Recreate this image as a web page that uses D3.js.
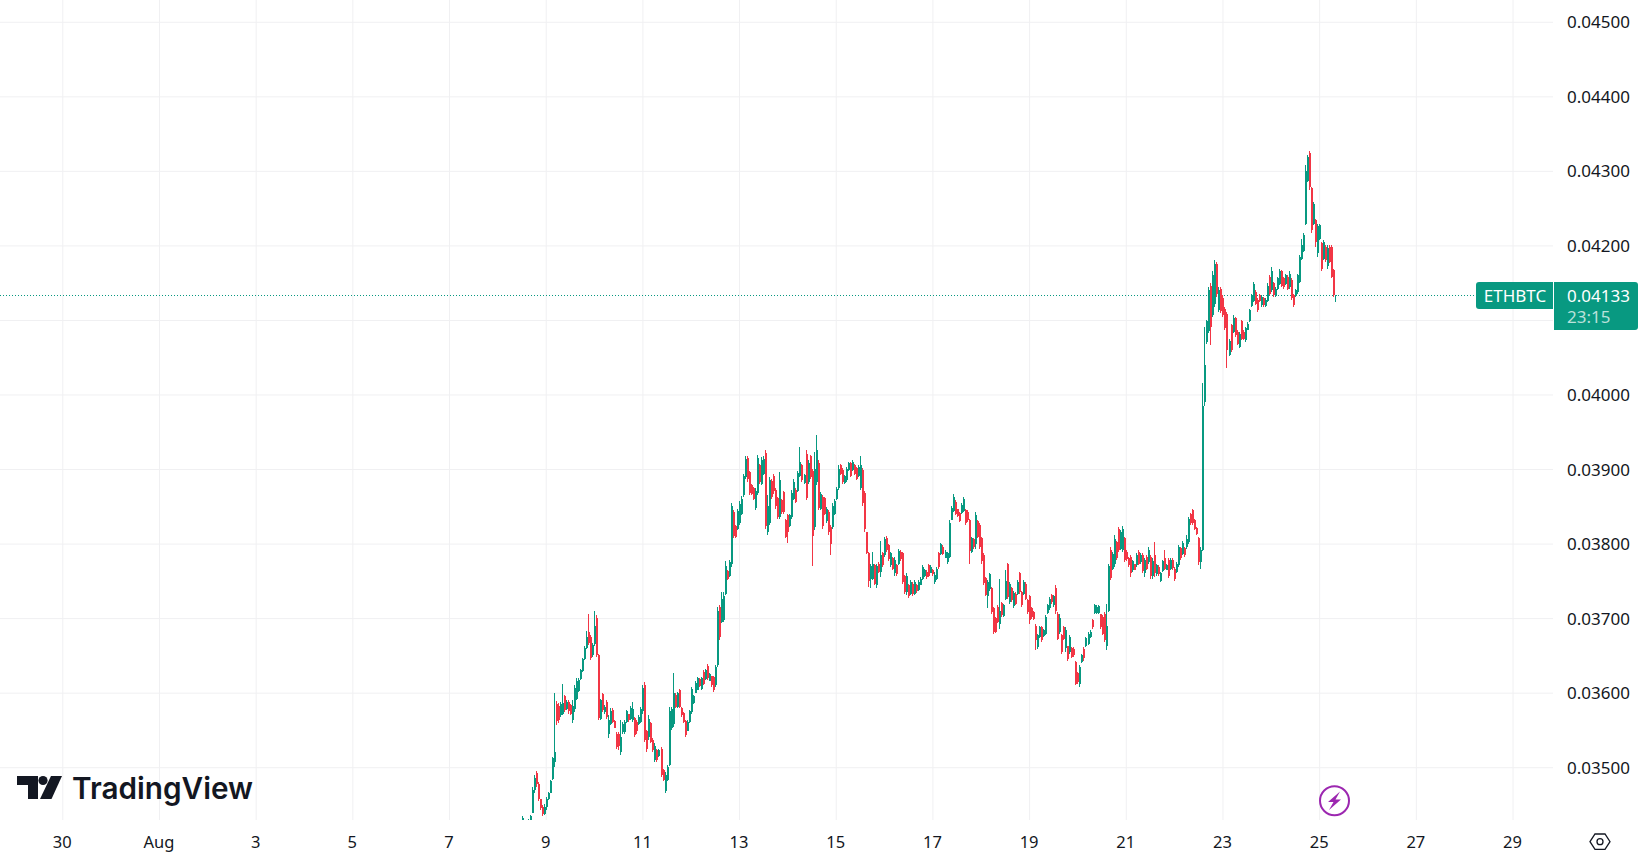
<!DOCTYPE html>
<html>
<head>
<meta charset="utf-8">
<title>ETHBTC</title>
<script src="https://cdn.jsdelivr.net/npm/d3@7"></script>
<style>
html, body { margin: 0; padding: 0; background: #fff; overflow: hidden; }
text { font-family: "Noto Sans", sans-serif; }
</style>
</head>
<body>
<div id="chart"></div>
<script>
const WIDTH = 1644, HEIGHT = 859;
const PANE_W = 1553, PANE_H = 820;
const UP = "#089981", DOWN = "#F23645", INK = "#131722", GRID = "#f0f0f2";

// hourly candles, 2025-08-08 12:00 UTC onward, prices in 1e-5 BTC
const firstCandle = Date.UTC(2025, 7, 8, 12);
const PRICE_UNIT = 1e5;

const opens = [
3427,3427,3420,3424,3428,3438,3469,3492,3478,3457,3446,3437,3446,3458,3466,3484,3507,3585,3582,3570,
3572,3595,3578,3588,3583,3563,3578,3592,3602,3618,3629,3645,3660,3682,3675,3650,3665,3700,3650,3565,
3598,3574,3588,3545,3558,3577,3562,3545,3544,3520,3547,3547,3560,3571,3565,3563,3566,3561,3558,3561,
3575,3610,3548,3540,3559,3537,3510,3523,3515,3525,3496,3468,3483,3503,3553,3558,3597,3581,3603,3580,
3573,3562,3549,3560,3574,3586,3600,3604,3618,3605,3628,3618,3636,3616,3622,3621,3610,3637,3715,3695,
3697,3733,3763,3757,3772,3843,3823,3820,3827,3840,3865,3889,3915,3896,3878,3874,3848,3868,3905,3880,
3894,3921,3815,3828,3884,3891,3872,3861,3836,3858,3869,3832,3838,3824,3835,3860,3872,3871,3891,3905,
3881,3920,3882,3917,3897,3822,3882,3908,3847,3862,3861,3830,3843,3822,3822,3840,3860,3874,3905,3899,
3881,3885,3899,3908,3899,3905,3901,3890,3875,3899,3868,3815,3787,3752,3753,3771,3745,3773,3762,3787,
3784,3808,3798,3771,3780,3760,3771,3773,3789,3787,3756,3735,3744,3733,3746,3733,3745,3738,3745,3752,
3756,3762,3771,3761,3765,3748,3752,3787,3786,3796,3781,3775,3782,3832,3844,3856,3846,3841,3841,3844,
3845,3843,3831,3789,3806,3800,3830,3825,3807,3785,3754,3730,3739,3740,3713,3700,3715,3692,3720,3703,
3726,3772,3721,3740,3716,3733,3733,3760,3735,3733,3746,3724,3729,3713,3708,3690,3661,3675,3688,3676,
3679,3707,3713,3731,3717,3741,3706,3681,3677,3688,3660,3662,3654,3660,3659,3641,3626,3611,3641,3659,
3662,3665,3674,3697,3707,3707,3707,3705,3702,3706,3662,3710,3792,3766,3772,3802,3820,3793,3792,3807,
3789,3781,3782,3764,3772,3771,3789,3775,3785,3760,3782,3775,3782,3756,3785,3759,3769,3750,3763,3780,
3765,3778,3766,3778,3766,3762,3771,3794,3786,3794,3795,3802,3840,3845,3831,3821,3807,3775,3792,3990,
4070,4085,4146,4106,4122,4175,4113,4141,4130,4115,4108,4053,4093,4084,4102,4084,4064,4098,4084,4073,
4087,4098,4119,4126,4138,4127,4134,4120,4130,4119,4126,4158,4140,4149,4132,4142,4148,4165,4156,4148,
4158,4144,4154,4133,4132,4137,4151,4182,4193,4229,4287,4324,4277,4229,4234,4190,4209,4203,4182,4198,
4172,4198,4198,4167,4132
];
const highs = [
3434,3428,3426,3430,3436,3474,3489,3495,3480,3458,3449,3450,3460,3467,3483,3514,3600,3589,3586,3588,
3611,3597,3590,3590,3585,3590,3610,3619,3619,3632,3647,3662,3683,3705,3677,3666,3709,3704,3652,3592,
3600,3583,3590,3570,3579,3579,3563,3547,3547,3563,3561,3563,3577,3572,3582,3588,3568,3563,3570,3581,
3610,3614,3550,3570,3561,3539,3532,3525,3525,3527,3498,3494,3503,3581,3581,3627,3599,3601,3605,3581,
3574,3563,3563,3577,3608,3597,3615,3621,3619,3621,3630,3632,3638,3626,3623,3623,3637,3715,3717,3735,
3735,3776,3764,3778,3855,3845,3825,3847,3857,3864,3894,3917,3917,3898,3880,3876,3874,3919,3907,3916,
3917,3925,3865,3889,3886,3894,3874,3863,3896,3860,3871,3833,3840,3840,3872,3886,3874,3898,3929,3907,
3894,3925,3912,3919,3900,3923,3945,3912,3869,3865,3863,3849,3845,3825,3854,3860,3876,3905,3907,3901,
3892,3903,3910,3910,3912,3907,3903,3905,3918,3901,3871,3816,3789,3773,3789,3773,3773,3775,3804,3789,
3809,3810,3800,3789,3782,3782,3773,3793,3791,3789,3758,3760,3746,3751,3748,3751,3746,3751,3755,3771,
3766,3764,3773,3771,3766,3762,3769,3789,3801,3798,3791,3789,3831,3851,3866,3858,3847,3842,3854,3862,
3847,3845,3833,3809,3807,3842,3832,3827,3809,3787,3755,3751,3761,3742,3715,3702,3717,3753,3722,3719,
3765,3774,3749,3742,3737,3735,3751,3762,3737,3751,3748,3726,3731,3715,3710,3692,3679,3690,3690,3686,
3704,3719,3728,3733,3731,3744,3708,3706,3679,3690,3688,3663,3677,3661,3661,3643,3628,3637,3652,3661,
3675,3681,3684,3699,3719,3717,3717,3706,3704,3708,3719,3772,3795,3789,3811,3804,3822,3818,3823,3809,
3791,3782,3784,3778,3773,3787,3791,3787,3787,3780,3784,3795,3784,3780,3802,3773,3771,3762,3778,3792,
3773,3780,3780,3780,3768,3775,3798,3796,3804,3796,3811,3836,3841,3847,3833,3822,3809,3795,4015,4090,
4100,4144,4149,4165,4180,4178,4144,4144,4133,4118,4111,4075,4095,4106,4104,4086,4084,4100,4086,4091,
4097,4115,4135,4151,4140,4129,4135,4133,4131,4129,4149,4160,4171,4151,4144,4158,4169,4167,4158,4162,
4160,4165,4156,4135,4142,4162,4187,4209,4216,4308,4321,4327,4279,4258,4236,4229,4229,4205,4207,4200,
4200,4200,4200,4169,4133
];
const lows = [
3425,3420,3418,3422,3427,3438,3465,3474,3454,3442,3434,3436,3442,3456,3465,3483,3500,3557,3559,3568,
3570,3574,3577,3572,3570,3559,3574,3590,3601,3617,3628,3644,3659,3664,3644,3648,3662,3648,3563,3563,
3574,3572,3565,3539,3556,3559,3552,3525,3523,3516,3545,3545,3559,3561,3563,3561,3541,3545,3556,3559,
3572,3534,3521,3536,3532,3521,3507,3507,3514,3487,3481,3466,3481,3501,3550,3554,3579,3579,3579,3568,
3559,3541,3548,3559,3572,3585,3599,3603,3608,3603,3610,3617,3617,3615,3608,3601,3608,3635,3671,3693,
3695,3731,3751,3755,3769,3807,3807,3818,3825,3838,3863,3887,3883,3865,3865,3858,3845,3865,3880,3878,
3892,3820,3811,3825,3860,3867,3847,3833,3833,3840,3840,3807,3801,3822,3833,3858,3854,3869,3889,3883,
3880,3858,3880,3887,3770,3818,3878,3845,3845,3820,3838,3827,3811,3784,3820,3838,3858,3872,3892,3880,
3880,3883,3898,3889,3898,3892,3885,3889,3872,3851,3816,3786,3742,3740,3751,3744,3740,3760,3755,3769,
3782,3789,3777,3769,3764,3757,3757,3771,3777,3746,3733,3731,3727,3731,3730,3731,3734,3737,3744,3751,
3755,3753,3755,3760,3757,3746,3751,3766,3784,3784,3780,3773,3780,3831,3842,3838,3836,3829,3840,3842,
3825,3829,3773,3787,3793,3793,3807,3793,3773,3744,3729,3713,3737,3706,3679,3680,3693,3686,3702,3702,
3724,3726,3719,3722,3714,3717,3731,3733,3715,3731,3724,3706,3692,3699,3697,3657,3659,3673,3668,3675,
3677,3706,3711,3719,3715,3706,3670,3679,3652,3670,3655,3643,3652,3646,3648,3610,3612,3608,3640,3643,
3661,3664,3673,3686,3706,3706,3706,3686,3677,3668,3657,3708,3751,3764,3769,3778,3789,3791,3789,3775,
3777,3769,3755,3762,3764,3769,3771,3773,3760,3755,3764,3773,3753,3753,3755,3757,3757,3749,3762,3764,
3764,3754,3764,3765,3750,3760,3769,3778,3784,3782,3793,3800,3825,3825,3818,3811,3771,3766,3790,3985,
4068,4082,4066,4104,4118,4131,4111,4109,4104,4086,4035,4051,4057,4082,4077,4066,4062,4073,4073,4071,
4086,4097,4118,4124,4120,4111,4124,4118,4118,4118,4124,4133,4138,4131,4131,4140,4147,4144,4142,4147,
4140,4142,4127,4118,4131,4135,4149,4180,4191,4227,4285,4274,4216,4227,4198,4185,4207,4165,4180,4178,
4169,4176,4156,4131,4124
];
const closes = [
3432,3422,3424,3428,3435,3470,3486,3478,3458,3445,3437,3447,3458,3465,3481,3512,3520,3562,3563,3585,
3586,3577,3588,3575,3572,3582,3606,3616,3617,3630,3645,3660,3675,3666,3647,3664,3690,3650,3566,3590,
3577,3581,3568,3563,3576,3561,3553,3527,3528,3540,3558,3560,3575,3563,3580,3578,3543,3548,3568,3578,
3606,3537,3524,3565,3534,3523,3529,3510,3523,3489,3483,3490,3500,3575,3578,3600,3581,3599,3581,3570,
3561,3543,3561,3575,3605,3596,3613,3619,3609,3619,3612,3630,3619,3625,3610,3604,3635,3710,3675,3725,
3730,3770,3753,3775,3850,3810,3809,3844,3853,3860,3890,3913,3886,3868,3867,3860,3870,3915,3883,3912,
3914,3823,3850,3885,3863,3870,3850,3836,3885,3842,3842,3809,3815,3838,3868,3883,3856,3895,3910,3885,
3892,3861,3908,3889,3810,3900,3925,3848,3867,3823,3840,3847,3815,3800,3850,3857,3873,3900,3894,3882,
3890,3900,3908,3891,3910,3894,3887,3903,3905,3854,3819,3788,3750,3770,3772,3746,3770,3762,3785,3771,
3806,3791,3779,3787,3766,3778,3759,3790,3779,3749,3735,3757,3729,3749,3732,3749,3736,3749,3753,3768,
3764,3755,3757,3769,3759,3758,3766,3769,3799,3786,3789,3787,3828,3848,3862,3840,3837,3830,3852,3860,
3827,3831,3790,3807,3795,3838,3809,3796,3776,3747,3731,3748,3759,3708,3681,3682,3695,3710,3704,3717,
3750,3728,3746,3724,3734,3719,3749,3735,3717,3749,3726,3708,3698,3701,3699,3670,3677,3688,3670,3684,
3701,3717,3726,3721,3729,3709,3672,3700,3655,3672,3684,3645,3674,3648,3650,3612,3614,3634,3650,3646,
3673,3679,3682,3688,3717,3715,3716,3688,3679,3671,3690,3770,3754,3786,3806,3780,3791,3815,3820,3778,
3779,3771,3760,3776,3765,3785,3773,3785,3763,3778,3766,3792,3756,3776,3760,3771,3759,3760,3776,3766,
3771,3757,3778,3767,3753,3773,3795,3780,3801,3784,3806,3833,3827,3827,3820,3813,3775,3792,3985,4040,
4098,4140,4090,4160,4175,4135,4140,4112,4107,4089,4060,4072,4060,4103,4080,4068,4081,4075,4075,4089,
4095,4113,4133,4148,4122,4114,4125,4131,4120,4127,4146,4135,4165,4133,4142,4156,4166,4146,4144,4160,
4142,4162,4130,4120,4140,4160,4184,4200,4214,4300,4318,4278,4220,4255,4205,4226,4227,4168,4204,4180,
4197,4178,4158,4133,4133
];

const dayTicks = [
  Date.UTC(2025, 6, 30), Date.UTC(2025, 7, 1), Date.UTC(2025, 7, 3), Date.UTC(2025, 7, 5),
  Date.UTC(2025, 7, 7), Date.UTC(2025, 7, 9), Date.UTC(2025, 7, 11), Date.UTC(2025, 7, 13),
  Date.UTC(2025, 7, 15), Date.UTC(2025, 7, 17), Date.UTC(2025, 7, 19), Date.UTC(2025, 7, 21),
  Date.UTC(2025, 7, 23), Date.UTC(2025, 7, 25), Date.UTC(2025, 7, 27), Date.UTC(2025, 7, 29)
];
const dayLabels = ["30", "Aug", "3", "5", "7", "9", "11", "13", "15", "17", "19", "21", "23", "25", "27", "29"];
const priceTicks = [0.035, 0.036, 0.037, 0.038, 0.039, 0.04, 0.041, 0.042, 0.043, 0.044, 0.045];
const symbolName = "ETHBTC";
const lastPrice = 0.04133;
const countdown = "23:15";
const brandName = "TradingView";

const svg = d3.select("#chart").append("svg")
  .attr("width", WIDTH)
  .attr("height", HEIGHT)
  .style("display", "block");

const x = d3.scaleUtc()
  .domain([Date.UTC(2025, 6, 30), Date.UTC(2025, 7, 29)])
  .range([62.3, 1512.5]);
const y = d3.scaleLinear()
  .domain([0.035, 0.042])
  .range([767.2, 245.4]);

svg.append("clipPath").attr("id", "pane")
  .append("rect").attr("width", PANE_W).attr("height", PANE_H);

// grid lines come from the axes themselves
const gridX = svg.append("g")
  .attr("transform", `translate(0,${PANE_H})`)
  .call(d3.axisBottom(x).tickValues(dayTicks).tickSize(-PANE_H).tickFormat(""));
gridX.select(".domain").remove();
gridX.selectAll("line").attr("stroke", GRID);

const gridY = svg.append("g")
  .call(d3.axisRight(y).tickValues(priceTicks).tickSize(PANE_W).tickFormat(""));
gridY.select(".domain").remove();
gridY.selectAll("line").attr("stroke", GRID);

// last price line
svg.append("line")
  .attr("x1", 0).attr("x2", 1476)
  .attr("y1", Math.round(y(lastPrice)) + 0.5).attr("y2", Math.round(y(lastPrice)) + 0.5)
  .attr("stroke", UP)
  .attr("stroke-dasharray", "1 2");

// candles
const candles = opens.map((o, i) => ({
  t: firstCandle + i * 3600000,
  o: o / PRICE_UNIT, h: highs[i] / PRICE_UNIT, l: lows[i] / PRICE_UNIT, c: closes[i] / PRICE_UNIT
}));
const color = d => d.c >= d.o ? UP : DOWN;
const candleG = svg.append("g").attr("clip-path", "url(#pane)").attr("shape-rendering", "crispEdges");

candleG.selectAll("line.wick")
  .data(candles)
  .enter()
  .append("line")
  .attr("class", "wick")
  .attr("x1", d => Math.round(x(d.t)) + 0.5).attr("x2", d => Math.round(x(d.t)) + 0.5)
  .attr("y1", d => y(d.h)).attr("y2", d => y(d.l))
  .attr("stroke", color)
  .attr("stroke-width", 1);

candleG.selectAll("rect.body")
  .data(candles)
  .enter()
  .append("rect")
  .attr("class", "body")
  .attr("x", d => Math.round(x(d.t)))
  .attr("width", 2)
  .attr("y", d => y(Math.max(d.o, d.c)))
  .attr("height", d => Math.max(1, Math.abs(y(d.o) - y(d.c))))
  .attr("fill", color);

// axis labels
const xAxis = svg.append("g")
  .attr("transform", "translate(-0.5,842)")
  .call(d3.axisBottom(x).tickValues(dayTicks).tickSize(0).tickPadding(0)
    .tickFormat((d, i) => dayLabels[i]));
xAxis.select(".domain").remove();
xAxis.selectAll("text")
  .attr("y", 0).attr("dy", "0.36em")
  .attr("fill", INK)
  .style("font-size", "16.5px")
  .style("font-family", '"Noto Sans", sans-serif');

const yAxis = svg.append("g")
  .attr("transform", "translate(1567,0.6)")
  .call(d3.axisRight(y).tickValues(priceTicks.filter(p => p !== 0.041)).tickSize(0).tickPadding(0)
    .tickFormat(d3.format(".5f")));
yAxis.select(".domain").remove();
yAxis.selectAll("text")
  .attr("fill", INK)
  .style("font-size", "17px")
  .style("font-family", '"Noto Sans", sans-serif');

// price badges
svg.append("path")
  .attr("d", "M1479 282H1553V309H1479Q1476 309 1476 306V285Q1476 282 1479 282Z")
  .attr("fill", UP);
svg.append("path")
  .attr("d", "M1554 282H1635Q1638 282 1638 285V327Q1638 330 1635 330H1554Z")
  .attr("fill", UP);
svg.append("text").attr("x", 1515).attr("y", 295.5)
  .attr("text-anchor", "middle").attr("dy", "0.36em")
  .attr("fill", "#fff").style("font-size", "17px").text(symbolName);
svg.append("text").attr("x", 1567).attr("y", 295.5).attr("dy", "0.36em")
  .attr("fill", "#fff").style("font-size", "17px").text(d3.format(".5f")(lastPrice));
svg.append("text").attr("x", 1567).attr("y", 316.5).attr("dy", "0.36em")
  .attr("fill", "#fff").attr("fill-opacity", 0.72).style("font-size", "17px").text(countdown);

// logo
const logo = svg.append("g").attr("fill", INK);
logo.append("path").attr("d", "M17 776H38V799H28V785H17Z");
logo.append("circle").attr("cx", 43).attr("cy", 780.5).attr("r", 4.6);
logo.append("path").attr("d", "M51 776H62L51.5 799H40Z");
logo.append("text").attr("x", 72).attr("y", 799)
  .attr("textLength", 181)
  .attr("lengthAdjust", "spacingAndGlyphs")
  .style("font-family", "Inter, sans-serif")
  .style("font-weight", 600)
  .style("font-size", "30px")
  .text(brandName);

// lightning marker
svg.append("circle").attr("cx", 1334.5).attr("cy", 800.7).attr("r", 14.5)
  .attr("fill", "#fff").attr("stroke", "#9c27b0").attr("stroke-width", 2);
svg.append("path")
  .attr("d", "M1340 791.5L1328 802H1333.5L1329 810L1341 799.5H1335.5Z")
  .attr("fill", "#9c27b0");

// settings hexagon
svg.append("path")
  .attr("d", "M1590 841.7L1595 834H1605L1610 841.7L1605 849.4H1595Z")
  .attr("fill", "none").attr("stroke", INK).attr("stroke-width", 1.3);
svg.append("circle").attr("cx", 1600).attr("cy", 841.7).attr("r", 3)
  .attr("fill", "none").attr("stroke", INK).attr("stroke-width", 1.3);
</script>
</body>
</html>
